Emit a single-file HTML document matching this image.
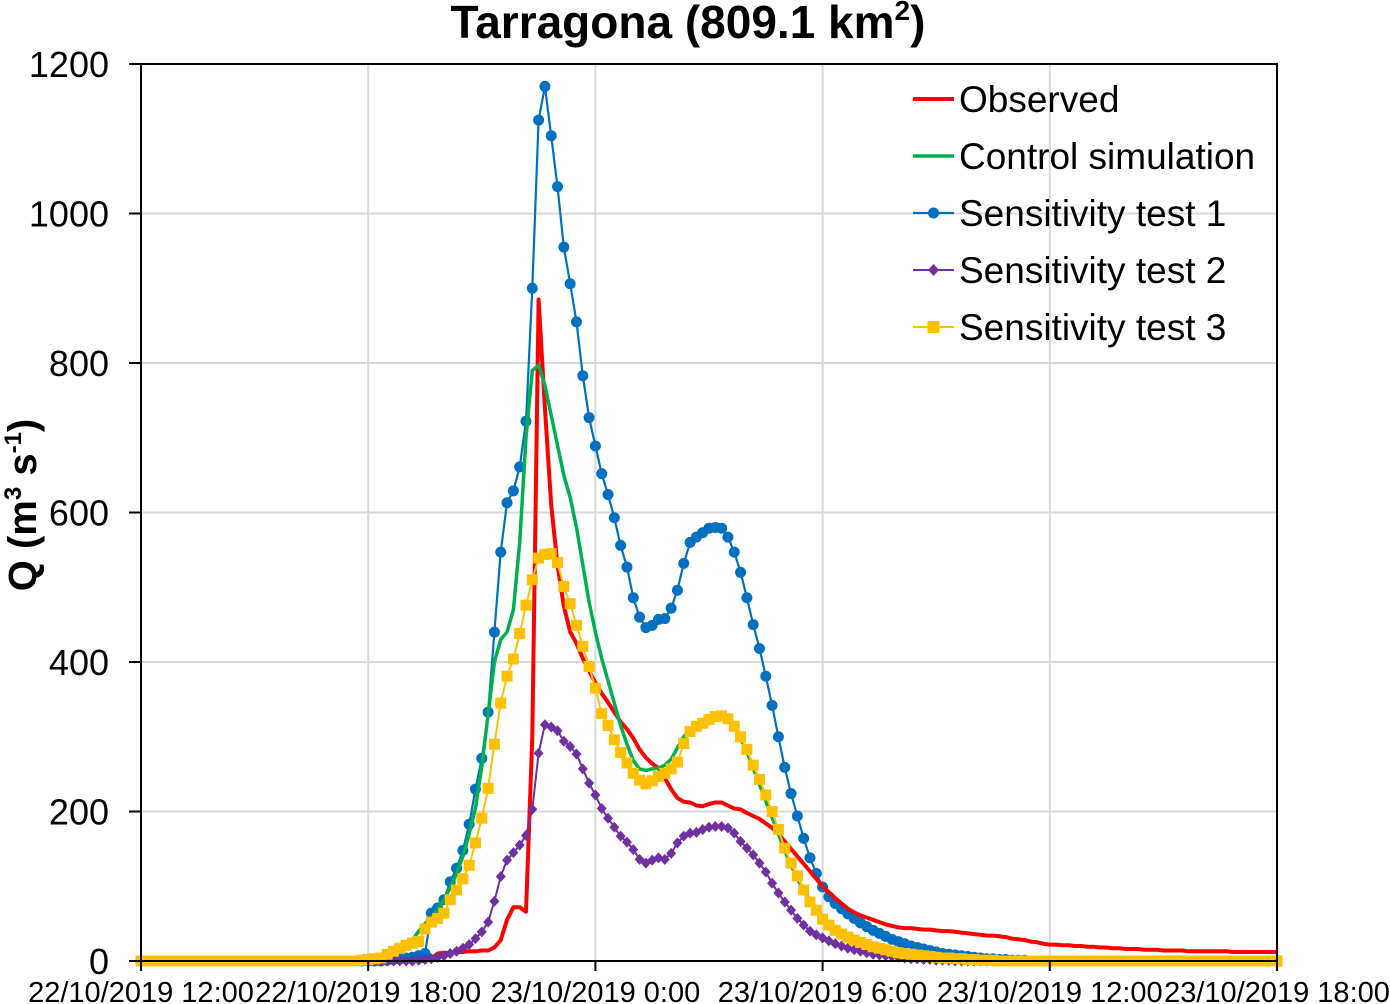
<!DOCTYPE html>
<html><head><meta charset="utf-8"><style>
html,body{margin:0;padding:0;background:#fff;}
svg{display:block;font-family:"Liberation Sans",Arial,sans-serif;}
</style></head><body>
<svg id="chart" width="1390" height="1004" viewBox="0 0 1390 1004" xmlns="http://www.w3.org/2000/svg">
<text x="688" y="38" text-anchor="middle" font-size="46" font-weight="bold">Tarragona (809.1 km<tspan font-size="28" dy="-18">2</tspan><tspan dy="18">)</tspan></text>
<g id="grid"></g>
<g id="series"></g>
<g id="axes"></g>
<text transform="translate(36,505) rotate(-90)" text-anchor="middle" font-size="40" font-weight="bold">Q (m<tspan font-size="24" dy="-15">3</tspan><tspan dy="15"> s</tspan><tspan font-size="24" dy="-15">-1</tspan><tspan dy="15">)</tspan></text>
<g id="legend"></g>
</svg>
<script>
const xTickLabels=["22/10/2019 12:00","22/10/2019 18:00","23/10/2019 0:00","23/10/2019 6:00","23/10/2019 12:00","23/10/2019 18:00"];
const yTicks=[0,200,400,600,800,1000,1200];
const nSteps=180; // 10-minute steps over 30 h
const observedStart=46;
const observedVals=[3,10,11,11,12,12,13,13,14,14,18,28,55,72,72,66,300,885,740,610,530,475,440,425,405,388,372,358,346,333,320,310,298,283,272,264,258,245,230,218,213,212,208,207,210,212,212,208,204,203,198,194,190,184,178,170,160,150,140,130,120,110,100,92,84,77,70,65,61,58,55,52,49,47,45,44,44,43,42,42,41,40,40,39,38,37,36,35,34,34,33,32,30,29,28,26,25,23,22,22,21,21,20,20,19,19,18,18,17,17,16,16,16,15,15,15,14,14,14,14,13,13,13,13,13,13,13,12,12,12,12,12,12,12,12,12,12,12,12];
const controlStart=35;
const controlVals=[1,2,3,4,8,12,17,22,28,40,50,58,68,82,98,117,140,170,205,260,330,400,430,440,470,560,700,790,797,770,730,690,650,620,580,530,480,440,405,375,345,315,290,268,257,255,257,258,262,270,285,300,310,316,320,324,327,328,324,314,298,280,258,236,214,192,170,148,128,110,95,80,68,58,50,43,37,33,29,26,23,20,18,16,14,12,11,10,9,8,7,6,5,4,4,3,3,2,2,1,1,1];
const test1Start=38;
const test1Vals=[0,1,2,3,4,5,7,10,64,71,82,106,124,148,183,230,271,333,440,547,613,629,661,722,900,1125,1170,1104,1036,955,906,855,783,727,689,652,624,593,556,527,486,460,446,449,457,458,472,496,532,560,567,573,579,580,579,567,547,520,486,450,418,381,342,300,259,224,194,164,138,117,99,86,77,70,63,57,51,46,41,37,33,29,26,23,20,18,16,14,12,10,9,8,7,6,5,4,3,3,2,2,1,1,1];
const test2Start=44;
const test2Vals=[1,2,3,5,7,10,13,17,22,30,39,52,80,113,135,145,155,168,203,278,316,313,308,294,287,277,257,238,222,204,191,179,167,159,149,136,131,135,138,136,144,158,167,171,172,176,179,180,180,178,171,160,151,142,131,119,104,91,79,68,57,48,40,35,31,27,23,20,17,15,13,11,9,8,7,6,5,4,3,3,2,2,1,1,1];
const test3Start=35;
const test3Vals=[1,2,3,4,9,13,17,21,24,26,43,52,57,64,82,95,110,128,158,191,231,290,345,381,404,438,476,510,539,544,545,533,501,478,449,421,394,365,331,315,296,279,265,251,242,237,241,247,251,257,266,291,307,314,318,323,327,328,324,314,300,283,262,243,222,200,176,151,131,114,95,79,68,56,48,41,36,32,28,25,22,19,17,15,13,11,10,9,8,7,6,5,4,4,3,3,2,2,1,1,1];

const NS="http://www.w3.org/2000/svg";
const X0=141,X1=1277,Y0=961,Y1=64;
function xs(i){return X0+(X1-X0)*i/nSteps;}
function ys(v){return Y0-(Y0-Y1)*v/1200;}
function mk(tag,attrs,parent){const e=document.createElementNS(NS,tag);for(const k in attrs)e.setAttribute(k,attrs[k]);parent.appendChild(e);return e;}
function full(start,vals){const out=[];for(let i=0;i<=nSteps;i++){const j=i-start;out.push(j>=0&&j<vals.length?vals[j]:(j>=vals.length&&vals.length?vals[vals.length-1]*0:0));}return out;}

const grid=document.getElementById('grid');
yTicks.forEach(v=>{if(v===0)return;const l=mk('line',{x1:X0,x2:X1,y1:ys(v),y2:ys(v),stroke:'#d9d9d9','stroke-width':2},grid);

});
xTickLabels.forEach((t,k)=>{if(k===0)return;const x=xs(k*36);const l=mk('line',{x1:x,x2:x,y1:Y1,y2:Y0,stroke:'#d9d9d9','stroke-width':2},grid);

});

const axes=document.getElementById('axes');
const frame=mk('rect',{x:X0,y:Y1,width:X1-X0,height:Y0-Y1,fill:'none',stroke:'#000','stroke-width':2},axes);


yTicks.forEach(v=>{const y=ys(v);const tk=mk('line',{x1:X0-12,x2:X0,y1:y,y2:y,stroke:'#000','stroke-width':2},axes);


const t=mk('text',{x:109,y:y+13,'text-anchor':'end','font-size':36},axes);t.textContent=v;

});
xTickLabels.forEach((s,k)=>{const x=xs(k*36);const tk=mk('line',{x1:x,x2:x,y1:Y0,y2:Y0+10,stroke:'#000','stroke-width':2},axes);


const t=mk('text',{x:x,y:1002,'text-anchor':'middle','font-size':29},axes);t.textContent=s;

});

const ser=document.getElementById('series');
function drawLine(vals,color,w,name){const pts=vals.map((v,i)=>xs(i).toFixed(1)+','+ys(v).toFixed(1)).join(' ');
const p=mk('polyline',{points:pts,fill:'none',stroke:color,'stroke-width':w,'stroke-linejoin':'round'},ser);

}
function drawMarkers(vals,color,shape,name){const g=mk('g',{fill:color},ser);


vals.forEach((v,i)=>{const x=xs(i),y=ys(v);let m;
if(shape==='circle')m=mk('circle',{cx:x,cy:y,r:5.5},g);
else if(shape==='diamond')m=mk('polygon',{points:`${x},${y-5.5} ${x+5},${y} ${x},${y+5.5} ${x-5},${y}`},g);
else m=mk('rect',{x:x-5.5,y:y-5.5,width:11,height:11},g);

});}

const obs=full(observedStart,observedVals),ctl=full(controlStart,controlVals),t1=full(test1Start,test1Vals),t2=full(test2Start,test2Vals),t3=full(test3Start,test3Vals);
drawLine(t1,'#0070c0',2.2,'test1-line');drawMarkers(t1,'#0070c0','circle','test1-markers');
drawLine(obs,'#ff0000',4,'observed-line');
drawLine(ctl,'#00b050',3.5,'control-line');
drawLine(t2,'#7030a0',2,'test2-line');drawMarkers(t2,'#7030a0','diamond','test2-markers');
drawLine(t3,'#ffc000',2,'test3-line');drawMarkers(t3,'#ffc000','square','test3-markers');

const leg=document.getElementById('legend');
const items=[["Observed","#ff0000",null,4],["Control simulation","#00b050",null,3.5],["Sensitivity test 1","#0070c0","circle",2.2],["Sensitivity test 2","#7030a0","diamond",2],["Sensitivity test 3","#ffc000","square",2]];
items.forEach((it,k)=>{const y=99+k*57;const g=mk('g',{},leg);


mk('line',{x1:913,x2:954,y1:y,y2:y,stroke:it[1],'stroke-width':it[3]},g);
const cx=933.5;
if(it[2]==='circle')mk('circle',{cx:cx,cy:y,r:5.5,fill:it[1]},g);
else if(it[2]==='diamond')mk('polygon',{points:`${cx},${y-6} ${cx+5.5},${y} ${cx},${y+6} ${cx-5.5},${y}`,fill:it[1]},g);
else if(it[2]==='square')mk('rect',{x:cx-6,y:y-6,width:12,height:12,fill:it[1]},g);
const t=mk('text',{x:959,y:y+13,'font-size':37},g);t.textContent=it[0];});
</script>
</body></html>
